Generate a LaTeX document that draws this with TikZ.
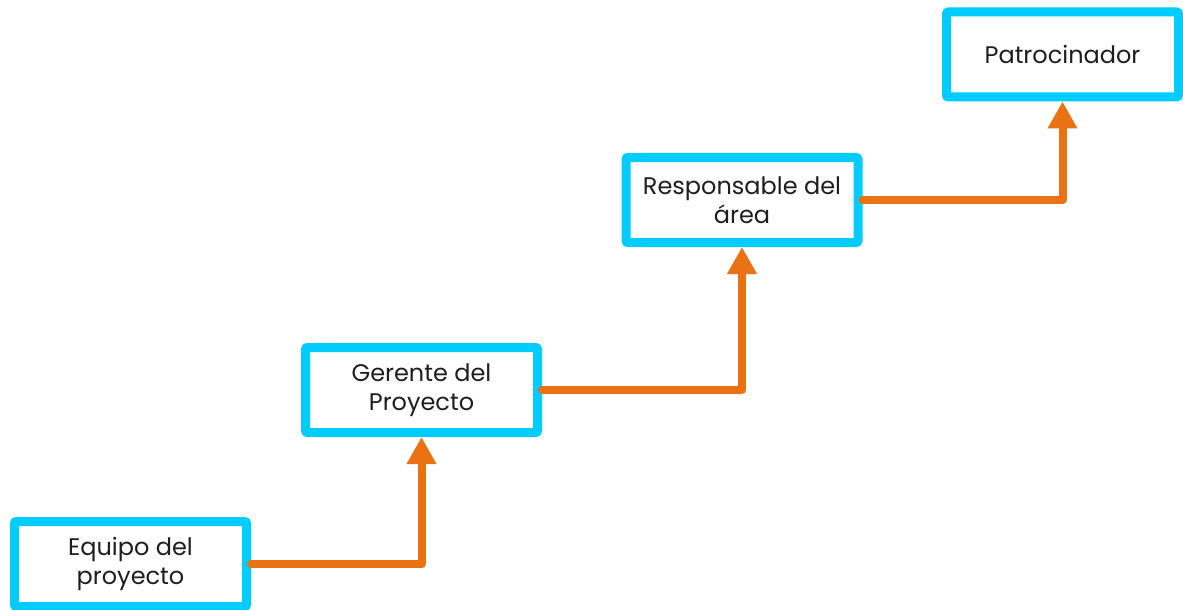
\documentclass[tikz,border=0pt]{standalone}
\usepackage{fontspec}
\setmainfont{Poppins}
\usetikzlibrary{arrows.meta}
\definecolor{ccyan}{RGB}{0,204,255}
\definecolor{corange}{RGB}{234,114,18}
\definecolor{ctext}{RGB}{30,30,30}
\tikzset{
  rolebox/.style={draw=ccyan,line width=4.5pt,rounded corners=1pt,fill=white,
    minimum width=116pt,minimum height=42.5pt,align=center,text=ctext,
    inner sep=2pt,font=\fontsize{12}{14.5}\selectfont},
  stepup/.style={draw=corange,line width=4pt,line cap=round,line join=round,
    -{Triangle[width=14pt,length=13.5pt]}}
}

\begin{document}
\begin{tikzpicture}[x=0.5pt,y=-0.5pt]
    \useasboundingbox (0,0) rectangle (1183,610);
    \node[rolebox] (equipo)  at (130.5,564)  {Equipo del\\proyecto};
    \node[rolebox] (gerente) at (421.5,390)  {Gerente del\\Proyecto};
    \node[rolebox] (resp)    at (742,200)    {Responsable del\\área};
    \node[rolebox] (patro)   at (1062.5,54.5) {Patrocinador};
    % steps up the ladder
    \draw[stepup] (equipo.east) -| (gerente.south);
    \draw[stepup] (gerente.east) -| (resp.south);
    \draw[stepup] (resp.east) -| (patro.south);
\end{tikzpicture}
\end{document}
